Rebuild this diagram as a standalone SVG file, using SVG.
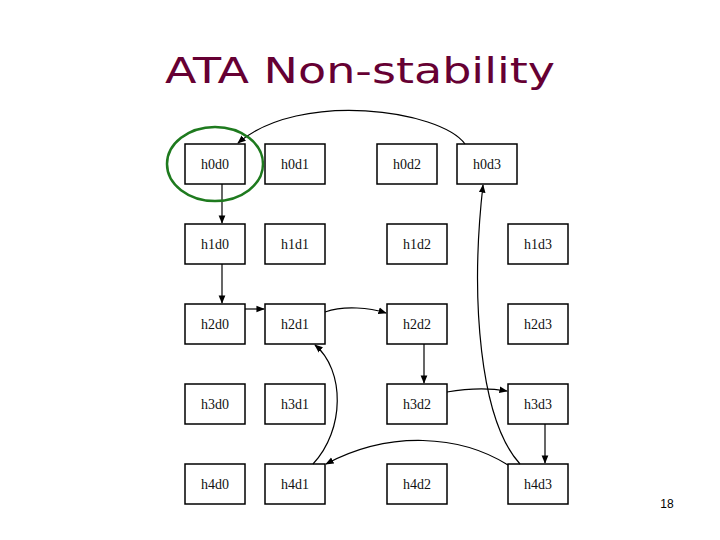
<svg xmlns="http://www.w3.org/2000/svg" width="720" height="540" viewBox="0 0 720 540">
<style>
.b rect{fill:#fff;stroke:#000;stroke-width:1.5}
.b text{font-family:"Liberation Serif",serif;font-size:14px;text-anchor:middle;fill:#111}
.c path{fill:none;stroke:#000;stroke-width:1.2;marker-end:url(#a)}
</style>
<defs><marker id="a" viewBox="0 0 10 10" refX="9" refY="5" markerWidth="7" markerHeight="7" orient="auto"><path d="M0,1L10,5L0,9z" fill="#000"/></marker></defs>
<rect width="720" height="540" fill="#fff"/>
<text x="360" y="83" font-family="'DejaVu Sans',sans-serif" font-size="36" fill="#660033" text-anchor="middle" textLength="390" lengthAdjust="spacingAndGlyphs">ATA Non-stability</text>
<g class="b">
<g id="h0d0"><rect x="185" y="144" width="60" height="40"/><text x="215" y="169">h0d0</text></g>
<g id="h0d1"><rect x="265" y="144" width="60" height="40"/><text x="295" y="169">h0d1</text></g>
<g id="h0d2"><rect x="377" y="144" width="60" height="40"/><text x="407" y="169">h0d2</text></g>
<g id="h0d3"><rect x="457" y="144" width="60" height="40"/><text x="487" y="169">h0d3</text></g>
<g id="h1d0"><rect x="185" y="224" width="60" height="40"/><text x="215" y="249">h1d0</text></g>
<g id="h1d1"><rect x="265" y="224" width="60" height="40"/><text x="295" y="249">h1d1</text></g>
<g id="h1d2"><rect x="387" y="224" width="60" height="40"/><text x="417" y="249">h1d2</text></g>
<g id="h1d3"><rect x="508" y="224" width="60" height="40"/><text x="538" y="249">h1d3</text></g>
<g id="h2d0"><rect x="185" y="304" width="60" height="40"/><text x="215" y="329">h2d0</text></g>
<g id="h2d1"><rect x="265" y="304" width="60" height="40"/><text x="295" y="329">h2d1</text></g>
<g id="h2d2"><rect x="387" y="304" width="60" height="40"/><text x="417" y="329">h2d2</text></g>
<g id="h2d3"><rect x="508" y="304" width="60" height="40"/><text x="538" y="329">h2d3</text></g>
<g id="h3d0"><rect x="185" y="384" width="60" height="40"/><text x="215" y="409">h3d0</text></g>
<g id="h3d1"><rect x="265" y="384" width="60" height="40"/><text x="295" y="409">h3d1</text></g>
<g id="h3d2"><rect x="387" y="384" width="60" height="40"/><text x="417" y="409">h3d2</text></g>
<g id="h3d3"><rect x="508" y="384" width="60" height="40"/><text x="538" y="409">h3d3</text></g>
<g id="h4d0"><rect x="185" y="464" width="60" height="40"/><text x="215" y="489">h4d0</text></g>
<g id="h4d1"><rect x="265" y="464" width="60" height="40"/><text x="295" y="489">h4d1</text></g>
<g id="h4d2"><rect x="387" y="464" width="60" height="40"/><text x="417" y="489">h4d2</text></g>
<g id="h4d3"><rect x="508" y="464" width="60" height="40"/><text x="538" y="489">h4d3</text></g>
</g>
<g class="c">
<path d="M465,144 C440,110 300,90 238,143"/>
<path d="M222,184 L222,223"/>
<path d="M222,264 L222,303"/>
<path d="M245,309 L264,309"/>
<path d="M325,312 C345,305 370,308 386,313"/>
<path d="M424,344 L424,383"/>
<path d="M447,392 C470,388 490,388 507,391"/>
<path d="M545,424 L545,463"/>
<path d="M508,465 C460,435 390,430 326,464"/>
<path d="M313,464 C345,430 345,370 315,345"/>
<path d="M520,464 C480,420 470,300 483,185"/>
</g>
<ellipse id="circle" cx="215" cy="164" rx="48" ry="37" fill="none" stroke="#1e7a1e" stroke-width="2.5"/>
<text x="667" y="508" font-family="'Liberation Sans',sans-serif" font-size="12" text-anchor="middle">18</text>
</svg>
